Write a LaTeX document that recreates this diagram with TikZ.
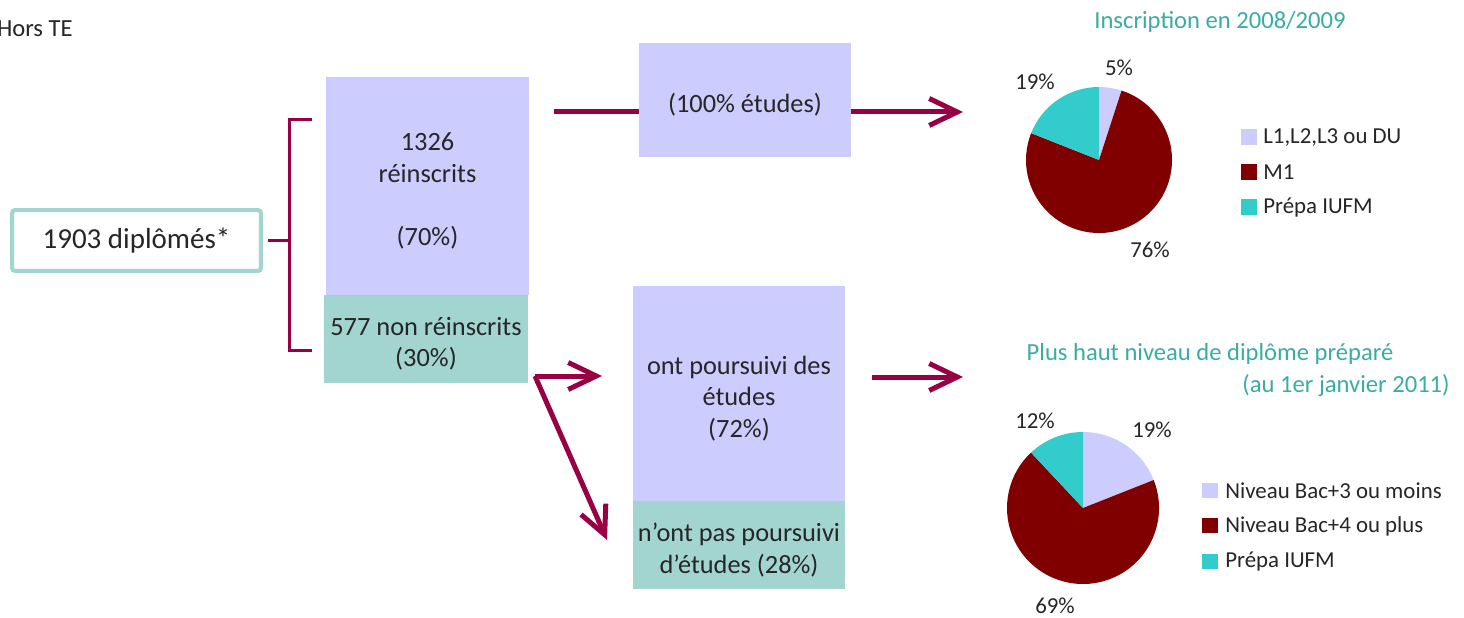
\documentclass[tikz,border=0pt]{standalone}
\usepackage{fontspec}
\setmainfont{Carlito}
\usepackage{xcolor}
\usetikzlibrary{positioning,arrows.meta}

\definecolor{lav}{HTML}{CCCCFF}
\definecolor{vert}{HTML}{A3D5D0}
\definecolor{cyanp}{HTML}{33CCCC}
\definecolor{bordeaux}{HTML}{800000}
\definecolor{pourpre}{HTML}{990044}
\definecolor{titrec}{HTML}{3AADA3}
\definecolor{texte}{HTML}{262626}

\begin{document}
\begin{tikzpicture}[x=0.02cm,y=0.02cm,
  every node/.style={text=texte,inner sep=0pt,align=center,font=\fontsize{15}{18}\selectfont},
  boite/.style={minimum width=4.24cm},
  trait/.style={draw=pourpre,line width=0.1cm},
  fleche/.style={trait,-{Straight Barb[length=0.56cm,width=0.54cm]}},
  accolade/.style={draw=pourpre,line width=0.06cm},
  titre/.style={text=titrec,font=\fontsize{14}{17}\selectfont},
  pct/.style={font=\fontsize{13}{16}\selectfont},
  leg/.style={anchor=west,font=\fontsize{13}{16}\selectfont}]
\fill[white] (0,0) rectangle (1464,-618);
\useasboundingbox (0,0) rectangle (1464,-618);

\node[anchor=east,font=\fontsize{14}{17}\selectfont] (hors) at (73,-29) {Hors TE};

% effectif de depart
\node[draw=vert,line width=0.08cm,rounded corners=0.06cm,minimum width=4.98cm,minimum height=1.22cm,
  font=\fontsize{16.5}{20}\selectfont] (diplomes) at (136.5,-240.5) {1903 diplômés*};

% boites (fond puis texte)
\node[fill=lav,minimum width=4.06cm,minimum height=4.36cm] (reinscrits) at (427.5,-186) {};
\node[fill=vert,minimum width=4.08cm,minimum height=1.76cm] (nonreinscrits) at (426,-339) {};
\node[boite,fill=lav,minimum height=2.28cm] (etudes) at (745,-100) {};
\node[boite,fill=lav,minimum height=4.3cm] (poursuivi) at (739,-393.5) {};
\node[boite,fill=vert,minimum height=1.76cm] (paspoursuivi) at (739,-545) {};

\node (treinscrits) at ([yshift=-2.8pt]reinscrits.center) {1326\\réinscrits\\[18pt](70\%)};
\node (tnonreinscrits) at ([yshift=-2.8pt]nonreinscrits.center) {577 non réinscrits\\(30\%)};
\node (tetudes) at ([yshift=-2.8pt]etudes.center) {(100\% études)};
\node (tpoursuivi) at ([yshift=-2.8pt]poursuivi.center) {ont poursuivi des\\études\\(72\%)};
\node (tpaspoursuivi) at ([yshift=-2.8pt]paspoursuivi.center) {n'ont pas poursuivi\\d'études (28\%)};

% accolade
\coordinate (brhaut) at (289,-120);
\coordinate (brbas) at (289,-350);
\draw[accolade] (312,-120) -- (brhaut) -- (brbas) -- (312,-350);
\draw[accolade] ([xshift=0.1cm]diplomes.east) -- (diplomes.east -| brhaut);

% fleches
\coordinate (depart) at (554,-112);
\coordinate (fin1) at (963,-112);
\draw[trait] (depart) -- (depart -| etudes.west);
\draw[fleche] (depart -| etudes.east) -- (fin1);

\coordinate (fourche) at (535,-376);
\coordinate (fin2) at (602,-376);
\coordinate (fin3) at (607,-540);
\draw[fleche] (fourche) -- (fin2);
\draw[fleche] (fourche) -- (fin3);

\coordinate (depart4) at (872,-377);
\coordinate (fin4) at (963,-377);
\draw[fleche] (depart4) -- (fin4);

% camembert 2008/2009
\def\centreA{(1099,-160)}
\fill[lav] \centreA -- ++(90:73) arc[start angle=90,end angle=72,radius=73] -- cycle;
\fill[bordeaux] \centreA -- ++(72:73) arc[start angle=72,end angle=-201.6,radius=73] -- cycle;
\fill[cyanp] \centreA -- ++(-201.6:73) arc[start angle=-201.6,end angle=-270,radius=73] -- cycle;
\node[titre] (titreA) at (1220,-22) {Inscription en 2008/2009};
\node[pct] (pA1) at (1119,-68) {5\%};
\node[pct] (pA2) at (1150,-250) {76\%};
\node[pct] (pA3) at (1035,-82) {19\%};
\fill[lav] (1241,-129) rectangle (1257,-145);
\node[leg] (legA1) at (1263,-138) {L1,L2,L3 ou DU};
\fill[bordeaux] (1241,-164) rectangle (1257,-180);
\node[leg] (legA2) at (1263,-172) {M1};
\fill[cyanp] (1241,-199) rectangle (1257,-215);
\node[leg] (legA3) at (1263,-208) {Prépa IUFM};

% camembert diplome prepare
\def\centreB{(1083,-508)}
\fill[lav] \centreB -- ++(90:76) arc[start angle=90,end angle=21.6,radius=76] -- cycle;
\fill[bordeaux] \centreB -- ++(21.6:76) arc[start angle=21.6,end angle=-226.8,radius=76] -- cycle;
\fill[cyanp] \centreB -- ++(-226.8:76) arc[start angle=-226.8,end angle=-270,radius=76] -- cycle;
\node[titre] (titreB1) at (1210,-354) {Plus haut niveau de diplôme préparé};
\node[titre,anchor=east] (titreB2) at (1450,-386) {(au 1er janvier 2011)};
\node[pct] (pB1) at (1152,-430) {19\%};
\node[pct] (pB2) at (1055,-606) {69\%};
\node[pct] (pB3) at (1035,-421) {12\%};
\fill[lav] (1202,-483) rectangle (1218,-498);
\node[leg] (legB1) at (1225,-491) {Niveau Bac+3 ou moins};
\fill[bordeaux] (1202,-518) rectangle (1218,-533);
\node[leg] (legB2) at (1225,-526) {Niveau Bac+4 ou plus};
\fill[cyanp] (1202,-554) rectangle (1218,-569);
\node[leg] (legB3) at (1225,-562) {Prépa IUFM};
\end{tikzpicture}
\end{document}
